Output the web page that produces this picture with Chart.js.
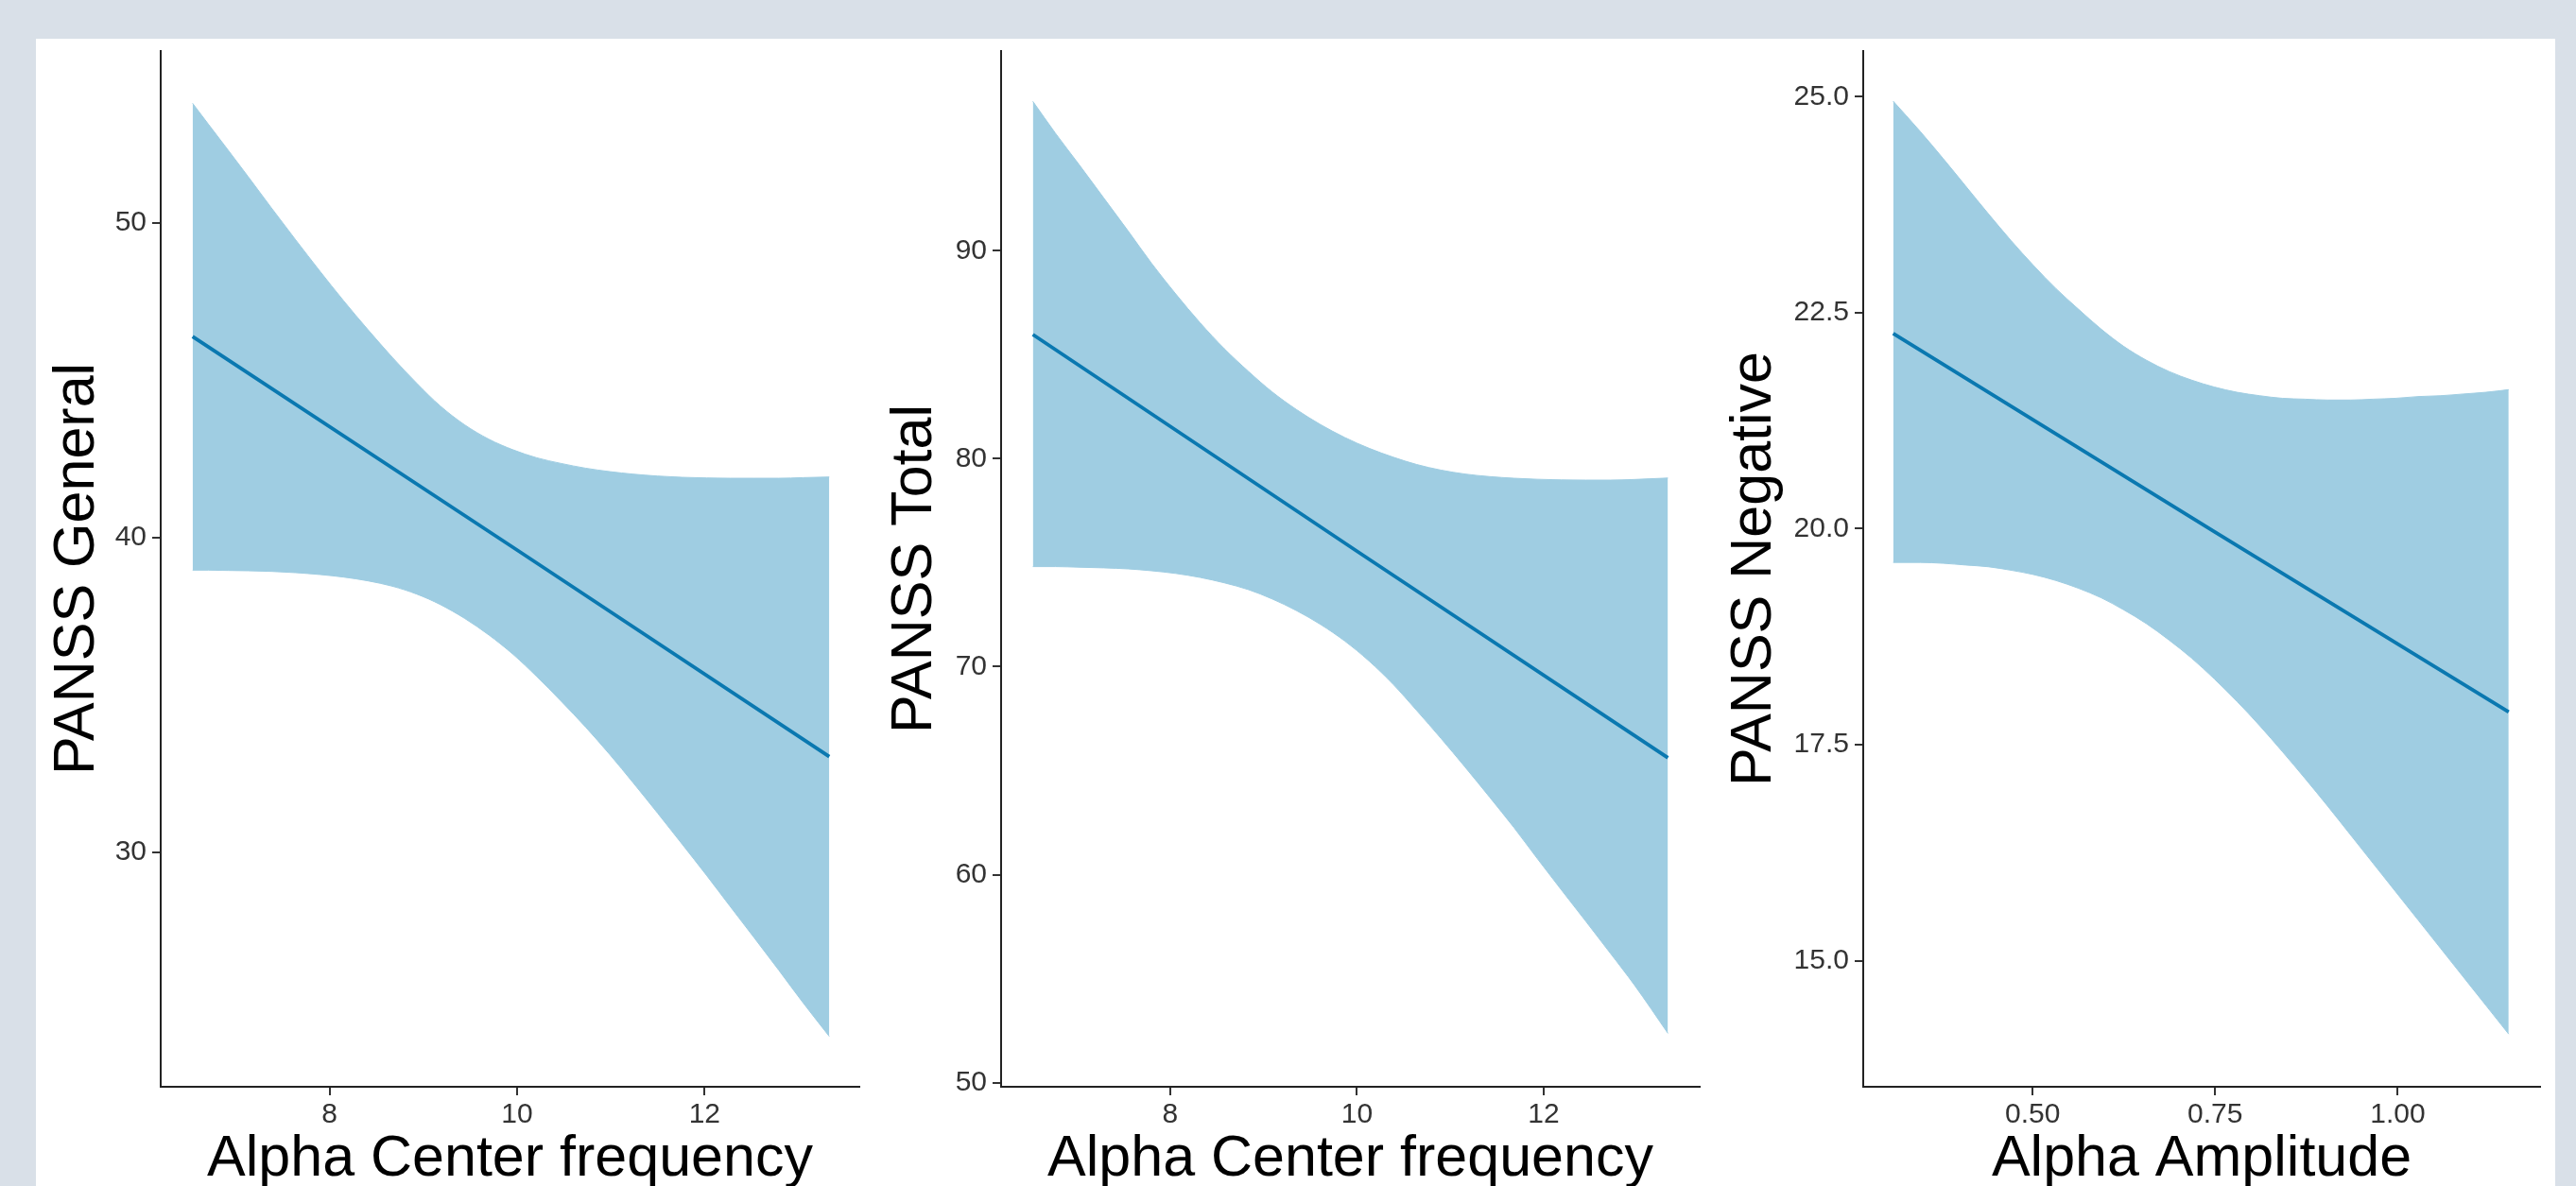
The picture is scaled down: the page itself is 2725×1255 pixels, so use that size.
<!DOCTYPE html>
<html>
<head>
<meta charset="utf-8">
<script src="https://cdn.jsdelivr.net/npm/chart.js@4.4.0/dist/chart.umd.min.js"></script>
<style>
  html, body { margin: 0; padding: 0; width: 2725px; height: 1255px; overflow: hidden; background: #d9e0e8; }
  #panel { position: absolute; left: 38px; top: 41px; width: 2665px; height: 1300px; background: #ffffff; }
  canvas { position: absolute; top: 0; }
</style>
</head>
<body>
<div id="panel"></div>
<canvas id="c1" width="880" height="1300" style="left:40px"></canvas>
<canvas id="c2" width="884" height="1300" style="left:926px"></canvas>
<canvas id="c3" width="886" height="1300" style="left:1814px"></canvas>
<script>
// ---------- Panel 1: PANSS General vs Alpha Center frequency ----------
const x1 = [6.54, 6.71, 6.92, 7.13, 7.38, 7.64, 7.90, 8.15, 8.41, 8.67, 8.93, 9.18, 9.44, 9.70,
            9.96, 10.21, 10.47, 10.73, 10.99, 11.24, 11.50, 11.76, 12.02, 12.27, 12.53, 12.79, 13.05, 13.33];
const upper1 = [53.79, 53.12, 52.30, 51.47, 50.47, 49.45, 48.45, 47.52, 46.60, 45.72, 44.90, 44.18, 43.58, 43.12,
                42.78, 42.53, 42.35, 42.20, 42.09, 42.01, 41.95, 41.91, 41.89, 41.88, 41.88, 41.88, 41.90, 41.92];
const lower1 = [38.96, 38.96, 38.95, 38.94, 38.92, 38.88, 38.82, 38.74, 38.62, 38.45, 38.20, 37.87, 37.43, 36.90,
                36.28, 35.58, 34.80, 33.98, 33.10, 32.20, 31.24, 30.26, 29.27, 28.29, 27.28, 26.26, 25.22, 24.15];
const fitX1 = [6.54, 10, 13.33];
const fit1 = [46.38, 39.6, 33.04];
const xTicks1 = [8, 10, 12];
const xTickLabels1 = ['8', '10', '12'];
const yTicks1 = [30, 40, 50];
const yTickLabels1 = ['30', '40', '50'];

// ---------- Panel 2: PANSS Total vs Alpha Center frequency ----------
const x2 = [6.53, 6.77, 7.03, 7.29, 7.55, 7.80, 8.06, 8.32, 8.58, 8.84, 9.09, 9.35, 9.61, 9.87,
            10.13, 10.39, 10.64, 10.90, 11.16, 11.42, 11.68, 11.93, 12.19, 12.45, 12.71, 12.97, 13.33];
const upper2 = [97.18, 95.66, 94.11, 92.53, 90.95, 89.40, 87.92, 86.54, 85.29, 84.19, 83.22, 82.37, 81.64, 81.02,
                80.50, 80.07, 79.72, 79.45, 79.26, 79.14, 79.06, 79.01, 78.98, 78.97, 78.97, 79.00, 79.07];
const lower2 = [74.81, 74.81, 74.78, 74.75, 74.70, 74.61, 74.48, 74.29, 74.03, 73.70, 73.26, 72.70, 72.03, 71.23,
                70.27, 69.14, 67.89, 66.55, 65.16, 63.73, 62.27, 60.78, 59.26, 57.76, 56.24, 54.70, 52.37];
const fitX2 = [6.53, 10, 13.33];
const fit2 = [85.97, 75.55, 65.62];
const xTicks2 = [8, 10, 12];
const xTickLabels2 = ['8', '10', '12'];
const yTicks2 = [50, 60, 70, 80, 90];
const yTickLabels2 = ['50', '60', '70', '80', '90'];

// ---------- Panel 3: PANSS Negative vs Alpha Amplitude ----------
const x3 = [0.309, 0.346, 0.377, 0.408, 0.439, 0.470, 0.501, 0.532, 0.563, 0.594, 0.625, 0.656, 0.687, 0.718,
            0.749, 0.780, 0.811, 0.842, 0.873, 0.904, 0.935, 0.966, 0.997, 1.028, 1.059, 1.090, 1.121, 1.152];
const upper3 = [24.95, 24.60, 24.29, 23.97, 23.65, 23.34, 23.05, 22.78, 22.54, 22.31, 22.11, 21.95, 21.82, 21.72,
                21.64, 21.58, 21.54, 21.51, 21.50, 21.49, 21.49, 21.50, 21.51, 21.53, 21.54, 21.56, 21.58, 21.61];
const lower3 = [19.61, 19.61, 19.60, 19.58, 19.56, 19.52, 19.47, 19.40, 19.31, 19.20, 19.06, 18.90, 18.71, 18.50,
                18.26, 18.00, 17.72, 17.42, 17.11, 16.79, 16.46, 16.13, 15.80, 15.47, 15.14, 14.81, 14.48, 14.15];
const fitX3 = [0.309, 0.75, 1.152];
const fit3 = [22.26, 19.96, 17.88];
const xTicks3 = [0.50, 0.75, 1.00];
const xTickLabels3 = ['0.50', '0.75', '1.00'];
const yTicks3 = [15.0, 17.5, 20.0, 22.5, 25.0];
const yTickLabels3 = ['15.0', '17.5', '20.0', '22.5', '25.0'];

const xTitle1 = 'Alpha Center frequency', yTitle1 = 'PANSS General';
const xTitle2 = 'Alpha Center frequency', yTitle2 = 'PANSS Total';
const xTitle3 = 'Alpha Amplitude', yTitle3 = 'PANSS Negative';

// ---------- styling ----------
const RIBBON = '#9fcde2';
const LINE = '#0a78b0';
const FONT = "'Liberation Sans', Arial, sans-serif";
const TICK_COLOR = '#333333';

function pts(xs, ys) { return xs.map((x, i) => ({ x: x, y: ys[i] })); }

function makeChart(id, cfg) {
  const ctx = document.getElementById(id);
  return new Chart(ctx, {
    type: 'line',
    data: {
      datasets: [
        { data: pts(cfg.x, cfg.upper), borderColor: RIBBON, borderWidth: 1, backgroundColor: RIBBON,
          pointRadius: 0, fill: '+1', cubicInterpolationMode: 'monotone', order: 2 },
        { data: pts(cfg.x, cfg.lower), borderColor: RIBBON, borderWidth: 1, backgroundColor: RIBBON,
          pointRadius: 0, fill: false, cubicInterpolationMode: 'monotone', order: 2 },
        { data: pts(cfg.fitX, cfg.fit), borderColor: LINE, borderWidth: 3.8, pointRadius: 0,
          fill: false, order: 1 }
      ]
    },
    options: {
      responsive: false,
      animation: false,
      devicePixelRatio: 1,
      layout: { padding: { left: 0, top: 54, right: cfg.padRight, bottom: 0 } },
      plugins: { legend: { display: false }, tooltip: { enabled: false } },
      scales: {
        x: {
          type: 'linear', position: 'bottom', min: cfg.xmin, max: cfg.xmax,
          afterBuildTicks: s => { s.ticks = cfg.xTicks.map(v => ({ value: v })); },
          afterFit: s => { s.height = 150; },
          ticks: { color: TICK_COLOR, font: { family: FONT, size: 30 }, padding: 3,
                   maxRotation: 0, autoSkip: false,
                   callback: (v, i) => cfg.xTickLabels[i] },
          grid: { drawOnChartArea: false, drawTicks: true, tickLength: 9, color: '#333333', lineWidth: 2 },
          border: { display: true, color: '#222222', width: 2 },
          title: { display: true, text: cfg.xTitle, color: '#000000',
                   font: { family: FONT, size: 61 }, padding: { top: 0, bottom: 36 } }
        },
        y: {
          type: 'linear', position: 'left', min: cfg.ymin, max: cfg.ymax,
          afterBuildTicks: s => { s.ticks = cfg.yTicks.map(v => ({ value: v })); },
          afterFit: s => { s.width = cfg.yWidth; },
          ticks: { color: TICK_COLOR, font: { family: FONT, size: 30 }, padding: 6, autoSkip: false,
                   callback: (v, i) => cfg.yTickLabels[i] },
          grid: { drawOnChartArea: false, drawTicks: true, tickLength: 9, color: '#333333', lineWidth: 2 },
          border: { display: true, color: '#222222', width: 2 },
          title: { display: true, text: cfg.yTitle, color: '#000000',
                   font: { family: FONT, size: 61 }, padding: { top: 6, bottom: 0 } }
        }
      }
    }
  });
}

makeChart('c1', { x: x1, upper: upper1, lower: lower1, fitX: fitX1, fit: fit1,
  xmin: 6.2, xmax: 13.65, ymin: 22.55, ymax: 55.45,
  xTicks: xTicks1, xTickLabels: xTickLabels1, yTicks: yTicks1, yTickLabels: yTickLabels1,
  xTitle: xTitle1, yTitle: yTitle1, yWidth: 130, padRight: 11 });

makeChart('c2', { x: x2, upper: upper2, lower: lower2, fitX: fitX2, fit: fit2,
  xmin: 6.19, xmax: 13.67, ymin: 49.8, ymax: 99.6,
  xTicks: xTicks2, xTickLabels: xTickLabels2, yTicks: yTicks2, yTickLabels: yTickLabels2,
  xTitle: xTitle2, yTitle: yTitle2, yWidth: 133, padRight: 12 });

makeChart('c3', { x: x3, upper: upper3, lower: lower3, fitX: fitX3, fit: fit3,
  xmin: 0.268, xmax: 1.195, ymin: 13.54, ymax: 25.53,
  xTicks: xTicks3, xTickLabels: xTickLabels3, yTicks: yTicks3, yTickLabels: yTickLabels3,
  xTitle: xTitle3, yTitle: yTitle3, yWidth: 157, padRight: 13 });
</script>
</body>
</html>
